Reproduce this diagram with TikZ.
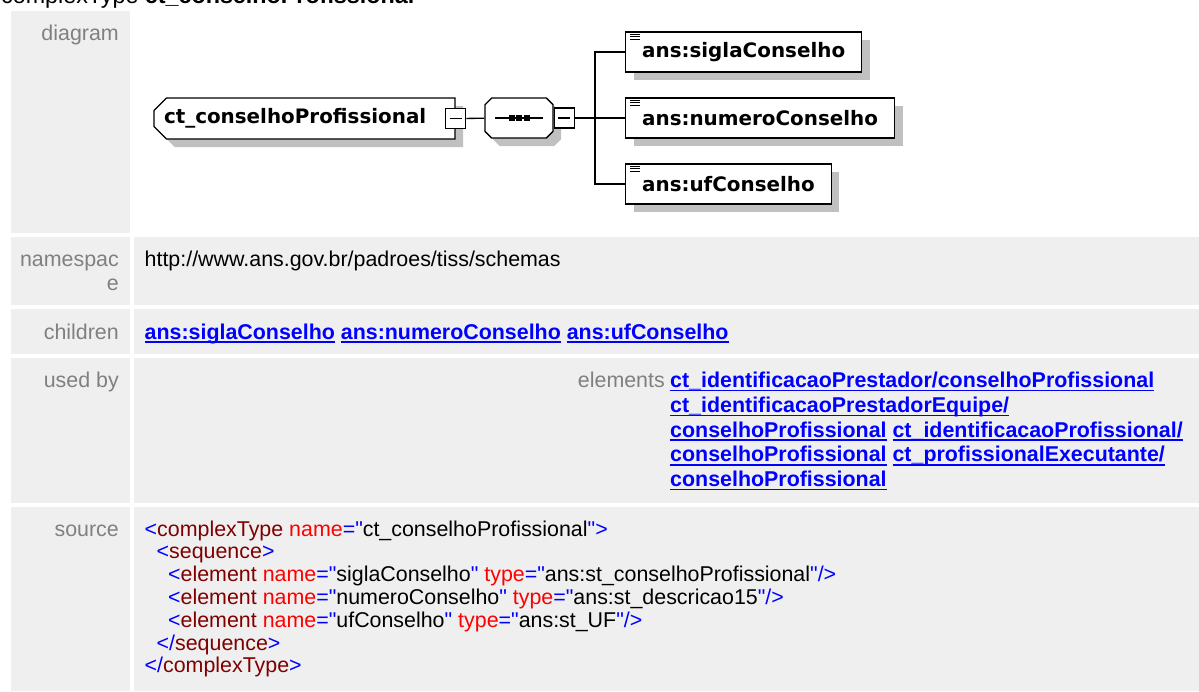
\documentclass[tikz,border=0pt]{standalone}
\usepackage{fontspec}
\setmainfont{Liberation Sans}[Ligatures=TeXOff]
\newfontfamily\diafont{DejaVu Sans}
\usetikzlibrary{positioning, shapes.misc, shadows}
\definecolor{cell}{HTML}{EFEFEF}
\definecolor{lblgrey}{HTML}{808080}
\definecolor{linkblue}{HTML}{0000FF}
\definecolor{xblue}{HTML}{0000FF}
\definecolor{xtag}{HTML}{800000}
\definecolor{xattr}{HTML}{FF0000}
\definecolor{shade}{HTML}{C0C0C0}

\newsavebox\lnkbox
\newcommand{\lnk}[1]{\sbox\lnkbox{\color{linkblue}\bfseries #1}\textcolor{linkblue}{\usebox\lnkbox\llap{\rule[-3.7pt]{\wd\lnkbox}{1.4pt}}}}
\newcommand{\dq}{\symbol{34}}
\newcommand{\xopen}[1]{\textcolor{xblue}{<}\textcolor{xtag}{#1}}
\newcommand{\xclose}[1]{\textcolor{xblue}{</}\textcolor{xtag}{#1}\textcolor{xblue}{>}}
\newcommand{\xatt}[2]{\textcolor{xattr}{\ #1}\textcolor{xblue}{=\dq}#2\textcolor{xblue}{\dq}}

\begin{document}
\begin{tikzpicture}[x=1pt, y=-1pt, font=\fontsize{21.4}{24.5}\selectfont,
  lbl/.style={anchor=base east, inner sep=0pt, text=lblgrey},
  txt/.style={anchor=base west, inner sep=0pt},
  dia/.style={font=\diafont\bfseries\fontsize{19.9}{24}\selectfont, line width=1.3pt,
    draw, fill=white, drop shadow={shadow xshift=8pt, shadow yshift=-8pt, fill=shade, opacity=1}},
  ctype/.style={dia, chamfered rectangle, chamfered rectangle corners={north west, south west},
    chamfered rectangle xsep=9pt, minimum height=41pt, inner xsep=1pt, text width=281pt, align=left},
  seqbox/.style={dia, chamfered rectangle, chamfered rectangle xsep=8pt,
    minimum width=68pt, minimum height=40pt, path picture={
      \draw[black, line width=1.3pt] ([xshift=-24pt]path picture bounding box.center) -- ([xshift=24pt]path picture bounding box.center);
      \foreach \dx in {-7.5,0,7.5}
        \fill[black] ([xshift=\dx pt]path picture bounding box.center) +(-3pt,-3pt) rectangle +(3pt,3pt);
    }},
  elem/.style={dia, rectangle, minimum height=40pt, inner xsep=16.5pt, anchor=west, path picture={
      \foreach \dy in {2.2,4.6,7}
        \draw[black, line width=1pt] ([xshift=4.5pt,yshift=-\dy pt]path picture bounding box.north west) -- ++(9.5pt,0pt);
    }},
  collapse/.style={draw, fill=white, line width=1.3pt, minimum size=20pt, inner sep=0pt, path picture={
      \draw[black, line width=1.3pt] ([xshift=-6pt]path picture bounding box.center) -- ([xshift=6pt]path picture bounding box.center);
    }},
  conn/.style={line width=1.3pt}]
  \useasboundingbox (0,0) rectangle (1199,691);

  % table cells
  \fill[cell] (11,11) rectangle (130,233);
  \foreach \top/\bot in {237/305, 309/354, 358/503, 507/691} {
    \fill[cell] (11,\top) rectangle (130,\bot);
    \fill[cell] (134,\top) rectangle (1199,\bot);
  }

  \node[anchor=base west, inner sep=0pt, font=\fontsize{23.3}{28}\selectfont] (title) at (1,3)
    {complexType \textbf{ct\_conselhoProfissional}};

  % diagram
  \node[ctype] (ct) at (304.5,118.5) {ct\_conselhoProfissional};
  \node[collapse] (ctminus) at (ct.east) {};
  \node[seqbox] (seq) at (519,118) {};
  \node[collapse, right=0pt of seq] (seqminus) {};
  \coordinate (fork) at (595,118);
  \node[elem] (sigla) at (625,52) {ans:siglaConselho};
  \node[elem] (numero) at (625,118) {ans:numeroConselho};
  \node[elem] (uf) at (625,184) {ans:ufConselho};
  \draw[conn] (ctminus) -- (seq);
  \draw[conn] (seqminus) -- (fork) -- (numero.west);
  \draw[conn] (fork) |- (sigla.west);
  \draw[conn] (fork) |- (uf.west);

  % labels
  \node[lbl] (ldiagram) at (119,40.5) {diagram};
  \node[lbl] (lns) at (119,266.7) {namespac};
  \node[lbl] (lns2) at (119,290.7) {e};
  \node[lbl] (lchildren) at (119,339) {children};
  \node[lbl] (lusedby) at (119,387.7) {used by};
  \node[lbl] (lsource) at (119,536) {source};

  % contents
  \node[txt] (ns) at (144.5,266.7) {http://www.ans.gov.br/padroes/tiss/schemas};
  \node[txt] (kids) at (144.5,339) {\lnk{ans:siglaConselho} \lnk{ans:numeroConselho} \lnk{ans:ufConselho}};
  \node[lbl] (elements) at (665,387.7) {elements};
  \node[txt] (use1) at (670,387.7) {\lnk{ct\_identificacaoPrestador/conselhoProfissional}};
  \node[txt] (use2) at (670,412.4) {\lnk{ct\_identificacaoPrestadorEquipe/}};
  \node[txt] (use3) at (670,437.1) {\lnk{conselhoProfissional} \lnk{ct\_identificacaoProfissional/}};
  \node[txt] (use4) at (670,461.8) {\lnk{conselhoProfissional} \lnk{ct\_profissionalExecutante/}};
  \node[txt] (use5) at (670,486.5) {\lnk{conselhoProfissional}};

  \node[txt] (src1) at (144.5,536) {\xopen{complexType}\xatt{name}{ct\_conselhoProfissional}\textcolor{xblue}{>}};
  \node[txt] (src2) at (156.5,558.8) {\xopen{sequence}\textcolor{xblue}{>}};
  \node[txt] (src3) at (168,581.6) {\xopen{element}\xatt{name}{siglaConselho}\xatt{type}{ans:st\_conselhoProfissional}\textcolor{xblue}{/>}};
  \node[txt] (src4) at (168,604.4) {\xopen{element}\xatt{name}{numeroConselho}\xatt{type}{ans:st\_descricao15}\textcolor{xblue}{/>}};
  \node[txt] (src5) at (168,627.2) {\xopen{element}\xatt{name}{ufConselho}\xatt{type}{ans:st\_UF}\textcolor{xblue}{/>}};
  \node[txt] (src6) at (156.5,650) {\xclose{sequence}};
  \node[txt] (src7) at (144.5,672.8) {\xclose{complexType}};
\end{tikzpicture}
\end{document}
